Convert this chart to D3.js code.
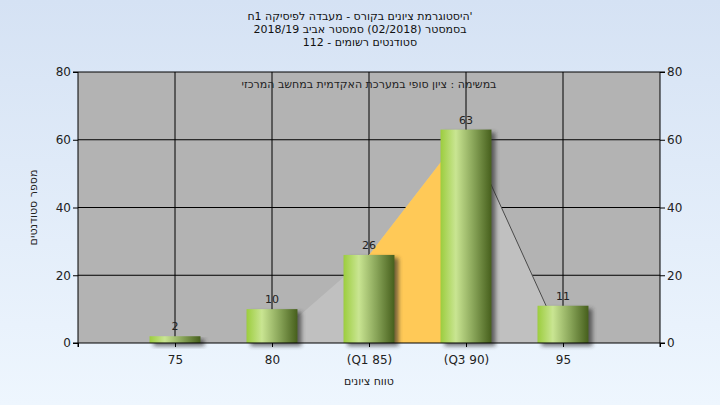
<!DOCTYPE html>
<html><head><meta charset="utf-8">
<script src="https://cdn.jsdelivr.net/npm/d3@7"></script>
<style>html,body{margin:0;padding:0;overflow:hidden}</style>
</head><body>
<script>
const categories = [75, 80, 85, 90, 95];
const tickLabels = ["75", "80", "(Q1 85)", "(Q3 90)", "95"];
const counts = [2, 10, 26, 63, 11];
const curveX = [80, 85, 90, 95];
const curveY = [1, 26, 63, 0];
const q1 = 85, q3 = 90;
const yTicks = [0, 20, 40, 60, 80];
const titleLines = ["'היסטוגרמת ציונים בקורס - מעבדה לפיסיקה 1ח", "בסמסטר  (02/2018)  סמסטר אביב 2018/19", "סטודנטים רשומים - 112"];
const innerTitle = "במשימה : ציון סופי במערכת האקדמית במחשב המרכזי";
const xTitle = "טווח ציונים";
const yTitle = "מספר סטודנטים";

const W = 720, H = 405;
const L = 78, R = 660, T = 72, B = 343;
const font = "'DejaVu Sans', sans-serif";

const svg = d3.select("body").append("svg").attr("width", W).attr("height", H);
const defs = svg.append("defs");
const bg = defs.append("linearGradient").attr("id", "bg").attr("x1", 0).attr("y1", 0).attr("x2", 0).attr("y2", 1);
bg.append("stop").attr("offset", 0).attr("stop-color", "#d5e2f4");
bg.append("stop").attr("offset", 1).attr("stop-color", "#eef6fe");
const bar = defs.append("linearGradient").attr("id", "bar").attr("x1", 0).attr("y1", 0).attr("x2", 1).attr("y2", 0);
[[0, "#9ccd3e"], [0.3, "#c9e592"], [0.65, "#88a458"], [1, "#465f1c"]].forEach(s => bar.append("stop").attr("offset", s[0]).attr("stop-color", s[1]));
const blur = defs.append("filter").attr("id", "blur").attr("x", -0.3).attr("y", -0.3).attr("width", 1.6).attr("height", 1.6);
blur.append("feGaussianBlur").attr("stdDeviation", 2);

svg.append("rect").attr("width", W).attr("height", H).attr("fill", "url(#bg)");

const x = d3.scaleLinear().domain([70, 100]).range([L, R]);
const y = d3.scaleLinear().domain([0, 80]).range([B, T]);

svg.append("rect").attr("x", L).attr("y", T).attr("width", R - L).attr("height", B - T).attr("fill", "#b3b3b3");

// grid
const g = svg.append("g");
g.selectAll(".hg").data(yTicks.filter(d => d > 0)).join("line")
  .attr("x1", L).attr("x2", R).attr("y1", d => y(d)).attr("y2", d => y(d)).attr("stroke", "#000").attr("stroke-width", 1);
g.selectAll(".vg").data(categories).join("line")
  .attr("x1", d => x(d)).attr("x2", d => x(d)).attr("y1", T).attr("y2", B).attr("stroke", "#000").attr("stroke-width", 1);

// area
const pts = curveX.map((v, i) => [v, curveY[i]]);
const area = d3.area().x(d => x(d[0])).y0(y(0)).y1(d => y(d[1]));
svg.append("path").attr("d", area(pts)).attr("fill", "#c0c0c0");
defs.append("clipPath").attr("id", "iqr").append("rect")
  .attr("x", x(q1)).attr("y", T).attr("width", x(q3) - x(q1)).attr("height", B - T);
svg.append("path").attr("d", area(pts)).attr("fill", "#ffc957").attr("clip-path", "url(#iqr)");
const line = d3.line().x(d => x(d[0])).y(d => y(d[1]));
svg.append("path").attr("d", line(pts.slice(2))).attr("fill", "none").attr("stroke", "#4a4a4a").attr("stroke-width", 1);

// bars
const bw = (x(80) - x(75)) * 0.525;
const bars = svg.append("g");
bars.selectAll(".sh").data(counts).join("rect")
  .attr("x", (d, i) => x(categories[i]) - bw / 2 + 4).attr("y", d => y(d) + 3)
  .attr("width", bw).attr("height", d => y(0) - y(d)).attr("fill", "#2a2a2a").attr("opacity", 0.65).attr("filter", "url(#blur)");
bars.selectAll(".b").data(counts).join("rect")
  .attr("x", (d, i) => x(categories[i]) - bw / 2).attr("y", d => y(d))
  .attr("width", bw).attr("height", d => y(0) - y(d)).attr("fill", "url(#bar)");

// value labels
svg.selectAll(".vl").data(counts).join("text")
  .attr("x", (d, i) => x(categories[i])).attr("y", d => y(d) - 6)
  .attr("text-anchor", "middle").attr("font-family", font).attr("font-size", 11).attr("fill", "#222")
  .text(d => d);

// axes
const axL = d3.axisLeft(y).tickValues(yTicks).tickSize(5).tickPadding(2);
const axR = d3.axisRight(y).tickValues(yTicks).tickSize(5).tickPadding(2);
const axB = d3.axisBottom(x).tickValues([70, 75, 80, 85, 90, 95, 100]).tickSize(4).tickPadding(8)
  .tickFormat(d => { const i = categories.indexOf(d); return i >= 0 ? tickLabels[i] : ""; });
function style(sel) {
  sel.selectAll("path,line").attr("stroke", "#000");
  sel.selectAll("text").attr("font-family", font).attr("font-size", 12).attr("fill", "#222");
}
svg.append("g").attr("transform", `translate(${L},0)`).call(axL).call(s => s.select(".domain").attr("d", `M-5,${T}H0V${B}H-5`)).call(style);
svg.append("g").attr("transform", `translate(${R},0)`).call(axR).call(s => s.select(".domain").attr("d", `M5,${T}H0V${B}H5`)).call(style);
svg.append("g").attr("transform", `translate(0,${B})`).call(axB).call(s => s.select(".domain").attr("d", `M${L},4V0H${R}V4`)).call(style);

// titles
svg.selectAll(".tt").data(titleLines).join("text")
  .attr("x", 360).attr("y", (d, i) => 20 + i * 13)
  .attr("text-anchor", "middle").attr("direction", "rtl").attr("font-family", font).attr("font-size", 11).attr("fill", "#111")
  .text(d => d);
svg.append("text").attr("x", (L + R) / 2).attr("y", 88).attr("text-anchor", "middle").attr("direction", "rtl")
  .attr("font-family", font).attr("font-size", 11).attr("fill", "#222").text(innerTitle);
svg.append("text").attr("x", (L + R) / 2).attr("y", 385).attr("text-anchor", "middle").attr("direction", "rtl")
  .attr("font-family", font).attr("font-size", 11).attr("fill", "#222").text(xTitle);
svg.append("text").attr("transform", `translate(37,${(T + B) / 2}) rotate(-90)`).attr("text-anchor", "middle").attr("direction", "rtl")
  .attr("font-family", font).attr("font-size", 11).attr("fill", "#222").text(yTitle);
</script>
</body></html>
